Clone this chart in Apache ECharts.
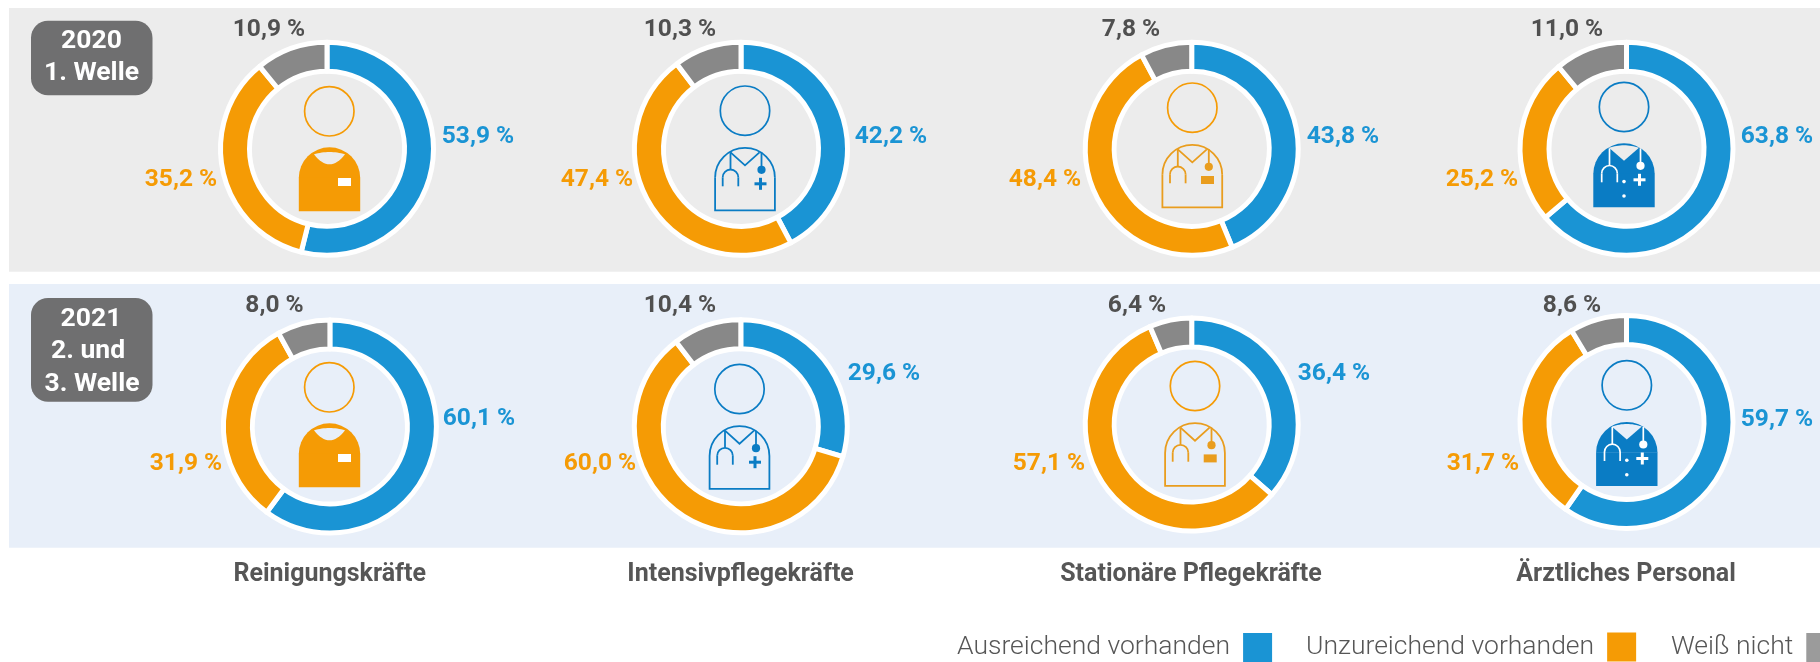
<!DOCTYPE html>
<html>
<head>
<meta charset="utf-8">
<title>Schutzausrüstung</title>
<script src="https://cdn.jsdelivr.net/npm/echarts@6/dist/echarts.min.js"></script>
<style>
    html, body { margin: 0; padding: 0; background: #fff; }
    #chart { width: 1820px; height: 662px; }
</style>
</head>
<body>
<div id="chart"></div>
<script>
// data
var categories = ['Reinigungskräfte', 'Intensivpflegekräfte', 'Stationäre Pflegekräfte', 'Ärztliches Personal'];
var statusNames = ['Ausreichend vorhanden', 'Unzureichend vorhanden', 'Weiß nicht'];
var ausreichend2020 = [53.9, 42.2, 43.8, 63.8];
var unzureichend2020 = [35.2, 47.4, 48.4, 25.2];
var weissNicht2020 = [10.9, 10.3, 7.8, 11.0];
var ausreichend2021 = [60.1, 29.6, 36.4, 59.7];
var unzureichend2021 = [31.9, 60.0, 57.1, 31.7];
var weissNicht2021 = [8.0, 10.4, 6.4, 8.6];
var badge2020 = ['2020', '1. Welle'];
var badge2021 = ['2021', '2. und', '3. Welle'];

// colours
var blue = '#1a94d4', orange = '#f59b05', grey = '#888888', darkText = '#565656';
var iconBlue = '#0a7cc4', iconGold = '#e99d1e';
var bg2020 = '#ececec', bg2021 = '#e8eff9';

// layout, in page pixels
var rows = [
    {
        bg: bg2020, panel: [9, 8, 1811, 263.7], badge: [31, 20.7, 121.5, 74.6],
        lines: badge2020, lineX: [91.5, 91.5], lineY: [41.5, 73.2],
        values: [ausreichend2020, unzureichend2020, weissNicht2020],
        centers: [[327, 148.8], [741, 148.8], [1191.7, 148.8], [1626.5, 148.8]],
        heads: [[329.3, 111.3], [745, 110.7], [1192.3, 107.7], [1624, 107]],
        bodies: [[329.5, 147.3], [745, 147.3], [1192.3, 144.3], [1624, 143.3]],
        labels: [
            [[478, 136.5], [181, 179.5], [269, 30]],
            [[891, 136.5], [597, 179.5], [680, 30]],
            [[1343, 136.5], [1045, 179.5], [1131, 30]],
            [[1777, 136.5], [1482, 179.5], [1567, 30]]
        ]
    },
    {
        bg: bg2021, panel: [9, 284, 1811, 263.7], badge: [31, 298, 121.5, 103.7],
        lines: badge2021, lineX: [91, 88, 92], lineY: [319.5, 351.5, 384.5],
        values: [ausreichend2021, unzureichend2021, weissNicht2021],
        centers: [[329.9, 426.5], [740.8, 426.3], [1191.7, 424.5], [1626.5, 422]],
        heads: [[329.3, 387.3], [739.5, 389], [1195, 386], [1626.8, 385.3]],
        bodies: [[329.5, 423.3], [739.5, 425.7], [1195, 422.7], [1626.8, 422]],
        labels: [
            [[479, 419], [186, 464], [274.5, 305.5]],
            [[884, 374], [600, 464], [680, 305.5]],
            [[1334, 374], [1049, 464], [1137, 305.5]],
            [[1777, 419.5], [1483, 464], [1572, 305.5]]
        ]
    }
];
var categoryX = [329.7, 740.6, 1191, 1626];
var categoryY = 575;
var iconKinds = ['cleaner', 'icu', 'ward', 'doctor'];

function fmt(v) {
    return v.toFixed(1).replace('.', ',') + ' %';
}

// small quadratic curve sampled to points, for the neck cut-outs
function quad(p0, p1, p2) {
    var pts = [];
    for (var i = 0; i <= 16; i++) {
        var t = i / 16, u = 1 - t;
        pts.push([u * u * p0[0] + 2 * u * t * p1[0] + t * t * p2[0], u * u * p0[1] + 2 * u * t * p1[1] + t * t * p2[1]]);
    }
    return pts;
}

function shapeEl(type, shape, style) {
    return { type: type, shape: shape, style: style, z: 10, silent: true };
}

function plus(x, y, color) {
    return [
        shapeEl('rect', { x: x - 6, y: y - 1.5, width: 12, height: 3 }, { fill: color }),
        shapeEl('rect', { x: x - 1.5, y: y - 6, width: 3, height: 12 }, { fill: color })
    ];
}

function stethoscope(color, w) {
    var s = { stroke: color, lineWidth: w, fill: null };
    return [
        shapeEl('line', { x1: -14.5, y1: 5, x2: -14.5, y2: 22 }, s),
        shapeEl('arc', { cx: -14.5, cy: 30, r: 7.8, startAngle: Math.PI, endAngle: Math.PI * 2, clockwise: true }, s),
        shapeEl('line', { x1: -22.3, y1: 30, x2: -22.3, y2: 39 }, s),
        shapeEl('line', { x1: -6.7, y1: 30, x2: -6.7, y2: 39 }, s),
        shapeEl('line', { x1: 16.5, y1: 5, x2: 16.5, y2: 20 }, s),
        shapeEl('circle', { cx: 16.5, cy: 22.5, r: 4.1 }, { fill: color })
    ];
}

function filledBody(color) {
    return [
        shapeEl('sector', { cx: 0, cy: 30.7, r0: 0, r: 30.7, startAngle: Math.PI, endAngle: Math.PI * 2, clockwise: true }, { fill: color }),
        shapeEl('rect', { x: -30.7, y: 30.5, width: 61.4, height: 33.5 }, { fill: color })
    ];
}

function outlineBody(color) {
    var s = { stroke: color, lineWidth: 1.8, fill: null };
    return [
        shapeEl('arc', { cx: 0, cy: 30.4, r: 29.9, startAngle: Math.PI, endAngle: Math.PI * 2, clockwise: true }, s),
        shapeEl('polyline', { points: [[-29.9, 30.4], [-29.9, 63.1], [29.9, 63.1], [29.9, 30.4]] }, s),
        shapeEl('polyline', { points: [[-14.5, 5], [0, 18], [14.5, 5]] }, s)
    ];
}

function iconParts(kind, bg) {
    var parts;
    if (kind === 'cleaner') {
        parts = filledBody(orange);
        parts.push(shapeEl('polygon', {
            points: quad([-15.5, 7], [0, 2.5], [15.5, 7]).concat(quad([15.5, 7], [0, 27], [-15.5, 7]))
        }, { fill: bg }));
        parts.push(shapeEl('rect', { x: 8.5, y: 30.7, width: 13, height: 8 }, { fill: '#fff' }));
    } else if (kind === 'icu') {
        parts = outlineBody(iconBlue).concat(stethoscope(iconBlue, 1.8), plus(15.5, 36.5, iconBlue));
    } else if (kind === 'ward') {
        parts = outlineBody(iconGold).concat(stethoscope(iconGold, 1.8));
        parts.push(shapeEl('rect', { x: 8.7, y: 31.7, width: 13, height: 8 }, { fill: iconGold }));
    } else {
        parts = filledBody(iconBlue);
        parts.push(shapeEl('polygon', {
            points: quad([-15, 4.5], [0, -0.5], [15, 4.5]).concat([[0, 17.5]])
        }, { fill: bg }));
        parts = parts.concat(stethoscope('#fff', 1.7), plus(15.5, 36.5, '#fff'));
        parts.push(shapeEl('circle', { cx: 0, cy: 38.3, r: 1.8 }, { fill: '#fff' }));
        parts.push(shapeEl('circle', { cx: 0, cy: 52.7, r: 1.8 }, { fill: '#fff' }));
    }
    return parts;
}

var series = [];
var graphics = [];
var labelSpots = [];

rows.forEach(function (row) {
    graphics.push({
        type: 'rect', z: -1, silent: true,
        shape: { x: row.panel[0], y: row.panel[1], width: row.panel[2], height: row.panel[3] },
        style: { fill: row.bg }
    });
    graphics.push({
        type: 'rect', z: 1, silent: true,
        shape: { x: row.badge[0], y: row.badge[1], width: row.badge[2], height: row.badge[3], r: 17 },
        style: { fill: '#6f6f70' }
    });
    row.lines.forEach(function (line, i) {
        graphics.push({
            type: 'text', z: 5, silent: true, x: row.lineX[i], y: row.lineY[i],
            style: {
                text: line, fill: '#fff', font: 'bold 26.5px Roboto',
                align: 'center', verticalAlign: 'middle'
            }
        });
    });
    categories.forEach(function (cat, c) {
        series.push({
            type: 'pie',
            name: cat,
            center: row.centers[c],
            radius: [77.5, 106.5],
            startAngle: 90,
            clockwise: true,
            animation: false,
            silent: true,
            avoidLabelOverlap: false,
            itemStyle: { borderColor: '#fff', borderWidth: 5 },
            label: {
                show: true,
                fontFamily: 'Roboto',
                fontWeight: 'bold',
                fontSize: 24.5,
                formatter: function (p) { return fmt(p.value); }
            },
            labelLine: { show: false },
            labelLayout: function (p) {
                var spot = labelSpots[p.seriesIndex][p.dataIndex];
                return { x: spot[0], y: spot[1], align: 'center', verticalAlign: 'middle' };
            },
            data: statusNames.map(function (n, s) {
                var color = [blue, orange, grey][s];
                return {
                    name: n,
                    value: row.values[s][c],
                    itemStyle: { color: color },
                    label: { color: [blue, orange, '#505050'][s] }
                };
            })
        });
        labelSpots.push(row.labels[c]);

        var headColor = (c === 0 || c === 2) ? orange : iconBlue;
        graphics.push({
            type: 'circle', z: 10, silent: true,
            shape: { cx: row.heads[c][0], cy: row.heads[c][1], r: 24.7 },
            style: { stroke: headColor, lineWidth: 1.7, fill: null }
        });
        graphics.push({
            type: 'group', x: row.bodies[c][0], y: row.bodies[c][1],
            children: iconParts(iconKinds[c], row.bg)
        });
    });
});

categories.forEach(function (cat, c) {
    graphics.push({
        type: 'text', z: 5, silent: true, x: categoryX[c], y: categoryY,
        style: {
            text: cat, fill: darkText, font: 'bold 25px Roboto',
            align: 'center', verticalAlign: 'middle'
        }
    });
});

function legendFor(i, left, top, color, textTop) {
    return {
        left: left,
        top: top,
        orient: 'horizontal',
        align: 'right',
        padding: 0,
        selectedMode: false,
        itemWidth: 29,
        itemHeight: 29,
        icon: 'rect',
        textStyle: {
            fontFamily: 'Roboto', fontWeight: 300, fontSize: 26.5, color: darkText,
            padding: [textTop, 8, 0, 0]
        },
        data: [{ name: statusNames[i], itemStyle: { color: color, borderWidth: 0 } }]
    };
}

var myChart = echarts.init(document.getElementById('chart'));
myChart.setOption({
    animation: false,
    backgroundColor: '#fff',
    legend: [
        legendFor(0, 957, 633, blue, 6),
        legendFor(1, 1306, 632.5, orange, 0),
        legendFor(2, 1671, 633, '#9b9b9b', 6)
    ],
    graphic: { elements: graphics },
    series: series
});
</script>
</body>
</html>
